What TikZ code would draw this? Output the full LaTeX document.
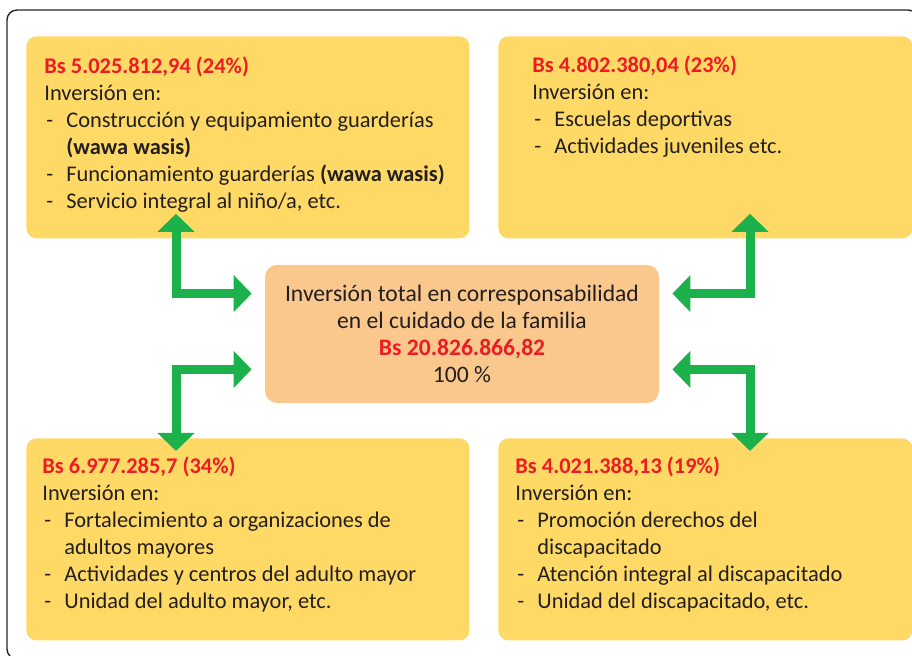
\documentclass[tikz,border=0pt]{standalone}
\usepackage{fontspec}
\setmainfont{Carlito}
\usetikzlibrary{arrows.meta,positioning}

\definecolor{boxyellow}{RGB}{255,217,102}
\definecolor{boxorange}{RGB}{250,199,140}
\definecolor{arrowgreen}{RGB}{29,177,75}
\definecolor{amountred}{RGB}{237,28,36}
\definecolor{textgray}{RGB}{35,31,32}

\newcommand{\amount}[1]{{\color{amountred}\bfseries #1}}
\newcommand{\itemdash}{\makebox[11pt][l]{\hspace{1pt}-}}
\newcommand{\itemind}{\hspace*{11pt}}

\begin{document}
\begin{tikzpicture}[
    x=0.5pt, y=-0.5pt,
    every node/.style={font=\fontsize{11.2}{13.5}\selectfont, text=textgray},
    areabox/.style={rectangle, fill=boxyellow, rounded corners=5pt, minimum width=#1, minimum height=101pt, inner sep=0pt, anchor=north west},
    areabox/.default=221.5pt,
    totalbox/.style={rectangle, fill=boxorange, rounded corners=6pt, minimum width=197pt, minimum height=69pt, align=center, inner sep=0pt, font=\fontsize{11.8}{13.5}\selectfont},
    areatext/.style={align=left, inner sep=0pt, anchor=north west},
    flow/.style={draw=arrowgreen, line width=4.5pt, {Triangle[width=18pt,length=9pt]}-{Triangle[width=18pt,length=9pt]}},
    frame/.style={draw=black!85, line width=0.7pt, rounded corners=5pt}
]
\useasboundingbox (0,0) rectangle (912,656);
\draw[frame] (7,10) rectangle (918,659);

% Boxes
\node (tl) [areabox] at (26,36) {};
\node (tr) [areabox=207pt] at (498,36) {};
\node (bl) [areabox] at (26,438) {};
\node (br) [areabox=207pt] at (498,438) {};
\node (total) [totalbox] at (462,334) {Inversión total en corresponsabilidad\\ en el cuidado de la familia\\ \amount{Bs 20.826.866,82}\\ 100 \%};

% Texts
\node (tltext) [areatext] at (44,56) {\amount{Bs 5.025.812,94 (24\%)}\\
    Inversión en:\\
    \itemdash Construcción y equipamiento guarderías\\
    \itemind\textbf{(wawa wasis)}\\
    \itemdash Funcionamiento guarderías \textbf{(wawa wasis)}\\
    \itemdash Servicio integral al niño/a, etc.};
\node (trtext) [areatext] at (532,55) {\amount{Bs 4.802.380,04 (23\%)}\\
    Inversión en:\\
    \itemdash Escuelas deportivas\\
    \itemdash Actividades juveniles etc.};
\node (bltext) [areatext] at (42,456) {\amount{Bs 6.977.285,7 (34\%)}\\
    Inversión en:\\
    \itemdash Fortalecimiento a organizaciones de\\
    \itemind adultos mayores\\
    \itemdash Actividades y centros del adulto mayor\\
    \itemdash Unidad del adulto mayor, etc.};
\node (brtext) [areatext] at (515,456) {\amount{Bs 4.021.388,13 (19\%)}\\
    Inversión en:\\
    \itemdash Promoción derechos del\\
    \itemind discapacitado\\
    \itemdash Atención integral al discapacitado\\
    \itemdash Unidad del discapacitado, etc.};

% Arrows
\draw [flow] ([xshift=75pt, yshift=12.5pt]tl.south west) |- ([xshift=-6.5pt, yshift=-14.5pt]total.north west);
\draw [flow] ([xshift=126pt, yshift=12.5pt]tr.south west) |- ([xshift=6.5pt, yshift=-14.5pt]total.north east);
\draw [flow] ([xshift=-6.5pt, yshift=17pt]total.south west) -| ([xshift=75pt, yshift=-6.5pt]bl.north west);
\draw [flow] ([xshift=6.5pt, yshift=17pt]total.south east) -| ([xshift=126pt, yshift=-6.5pt]br.north west);

\end{tikzpicture}
\end{document}
